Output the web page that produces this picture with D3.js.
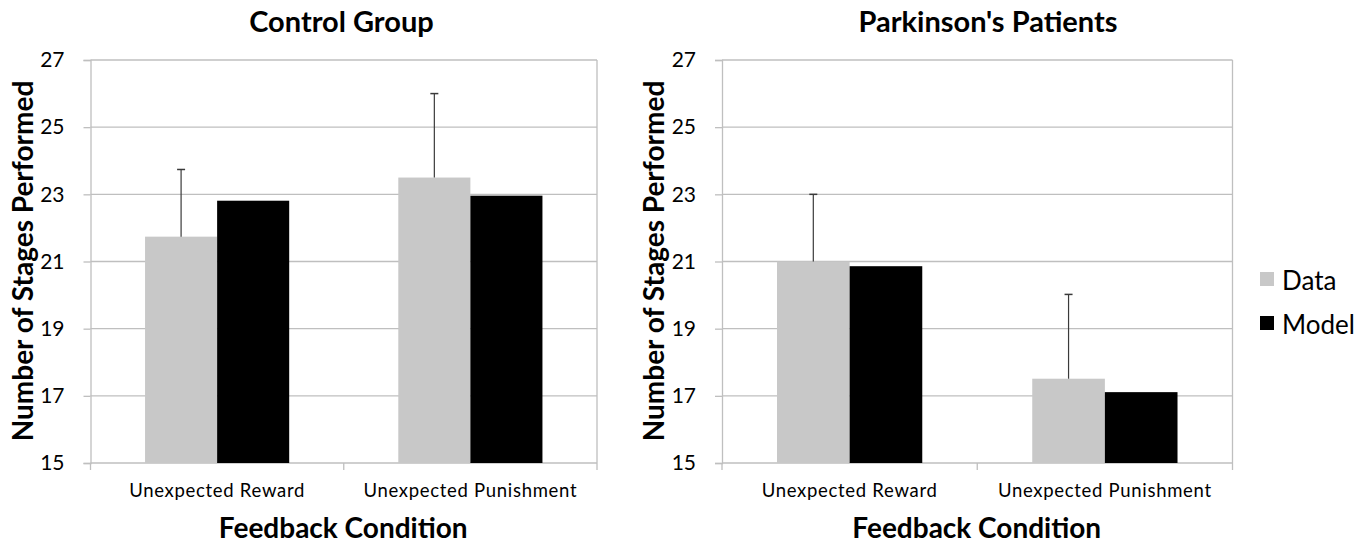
<!DOCTYPE html>
<html>
<head>
<meta charset="utf-8">
<script src="https://cdn.jsdelivr.net/npm/d3@7"></script>
<style>
  html, body { margin: 0; padding: 0; background: #fff; }
  svg { display: block; }
  text { font-family: Lato, "Open Sans", sans-serif; fill: #000; }
</style>
</head>
<body>
<script>
// Feedback conditions and plotted series
const categories = ["Unexpected Reward", "Unexpected Punishment"];
const seriesNames = ["Data", "Model"];

// Control group: mean stages performed, model fit, and upper error
const controlData = [21.74, 23.50];
const controlModel = [22.81, 22.96];
const controlError = [2.00, 2.50];

// Parkinson's patients
const pdData = [21.00, 17.51];
const pdModel = [20.86, 17.11];
const pdError = [2.00, 2.51];

const yTicks = [15, 17, 19, 21, 23, 25, 27];

const panels = [
  { title: "Control Group", data: controlData, model: controlModel, err: controlError,
    left: 90.5, right: 597, titleX: 341.5, labelX: 33 },
  { title: "Parkinson's Patients", data: pdData, model: pdModel, err: pdError,
    left: 722, right: 1232.5, titleX: 988, labelX: 664 }
];

const W = 1370, H = 548;
const plotTop = 60, plotBottom = 463;
const seriesColor = d3.scaleOrdinal().domain(seriesNames).range(["#c8c8c8", "#000000"]);
const gridColor = "#bfbfbf";

const svg = d3.select("body").append("svg").attr("width", W).attr("height", H);

const y = d3.scaleLinear().domain([15, 27]).range([plotBottom, plotTop]);

panels.forEach(p => {
  const g = svg.append("g");
  const x = d3.scaleBand().domain(categories).range([p.left, p.right]).padding(0);
  const xs = d3.scaleBand().domain(seriesNames).range([0, x.bandwidth()])
    .paddingInner(0).paddingOuter(0.757);

  // horizontal gridlines
  g.append("g").selectAll("line").data(yTicks.slice(1)).join("line")
    .attr("x1", p.left).attr("x2", p.right)
    .attr("y1", d => y(d)).attr("y2", d => y(d))
    .attr("stroke", gridColor).attr("stroke-width", 1.3);

  // right border of plot area
  g.append("line").attr("x1", p.right).attr("x2", p.right)
    .attr("y1", plotTop).attr("y2", plotBottom)
    .attr("stroke", gridColor).attr("stroke-width", 1.3);

  // y axis
  const yAxis = d3.axisLeft(y).tickValues(yTicks).tickSize(7).tickPadding(19);
  const ya = g.append("g").attr("transform", `translate(${p.left},0)`).call(yAxis);
  ya.select(".domain").attr("stroke", gridColor).attr("stroke-width", 1.3);
  ya.selectAll(".tick line").attr("stroke", gridColor).attr("stroke-width", 1.3);
  ya.selectAll(".tick text").attr("font-size", 21).attr("fill", "#000")
    .style("font-family", "Lato, sans-serif");

  // x axis with category boundary ticks
  g.append("line").attr("x1", p.left).attr("x2", p.right)
    .attr("y1", plotBottom).attr("y2", plotBottom)
    .attr("stroke", gridColor).attr("stroke-width", 1.3);
  const bounds = [p.left, ...categories.map(c => x(c) + x.bandwidth())];
  g.append("g").selectAll("line").data(bounds).join("line")
    .attr("x1", d => d).attr("x2", d => d)
    .attr("y1", plotBottom).attr("y2", plotBottom + 7)
    .attr("stroke", gridColor).attr("stroke-width", 1.3);
  g.append("g").selectAll("text").data(categories).join("text")
    .attr("x", d => x(d) + x.bandwidth() / 2).attr("y", 497)
    .attr("text-anchor", "middle").attr("font-size", 18.5)
    .attr("letter-spacing", 0.7)
    .text(d => d);

  // bars
  const rows = categories.map((c, i) => ({ c, i, vals: [p.data[i], p.model[i]] }));
  const grp = g.append("g").selectAll("g").data(rows).join("g")
    .attr("transform", d => `translate(${x(d.c)},0)`);
  grp.selectAll("rect").data(d => seriesNames.map((s, k) => ({ s, v: d.vals[k] }))).join("rect")
    .attr("x", d => xs(d.s)).attr("width", xs.bandwidth())
    .attr("y", d => y(d.v)).attr("height", d => y(15) - y(d.v))
    .attr("fill", d => seriesColor(d.s));

  // upper error bars on the data series
  const eb = grp.append("g");
  eb.append("line")
    .attr("x1", d => xs("Data") + xs.bandwidth() / 2).attr("x2", d => xs("Data") + xs.bandwidth() / 2)
    .attr("y1", d => y(p.data[d.i])).attr("y2", d => y(p.data[d.i] + p.err[d.i]))
    .attr("stroke", "#3a3a3a").attr("stroke-width", 1.2);
  eb.append("line")
    .attr("x1", d => xs("Data") + xs.bandwidth() / 2 - 4).attr("x2", d => xs("Data") + xs.bandwidth() / 2 + 4)
    .attr("y1", d => y(p.data[d.i] + p.err[d.i])).attr("y2", d => y(p.data[d.i] + p.err[d.i]))
    .attr("stroke", "#3a3a3a").attr("stroke-width", 1.5);

  // titles
  g.append("text").attr("x", p.titleX).attr("y", 32)
    .attr("text-anchor", "middle").attr("font-size", 29).attr("font-weight", "bold")
    .text(p.title);
  g.append("text").attr("x", (p.left + p.right) / 2 - 0.5).attr("y", 538)
    .attr("text-anchor", "middle").attr("font-size", 28).attr("font-weight", "bold")
    .text("Feedback Condition");
  g.append("text")
    .attr("transform", `translate(${p.labelX},261) rotate(-90)`)
    .attr("text-anchor", "middle").attr("font-size", 28).attr("font-weight", "bold")
    .text("Number of Stages Performed");
});

// legend
const legend = svg.append("g").selectAll("g").data(seriesNames).join("g")
  .attr("transform", (d, i) => `translate(1260,${272 + i * 44})`);
legend.append("rect").attr("width", 14).attr("height", 14).attr("fill", d => seriesColor(d));
legend.append("text").attr("x", 22).attr("y", 18).attr("font-size", 26).text(d => d);
</script>
</body>
</html>
